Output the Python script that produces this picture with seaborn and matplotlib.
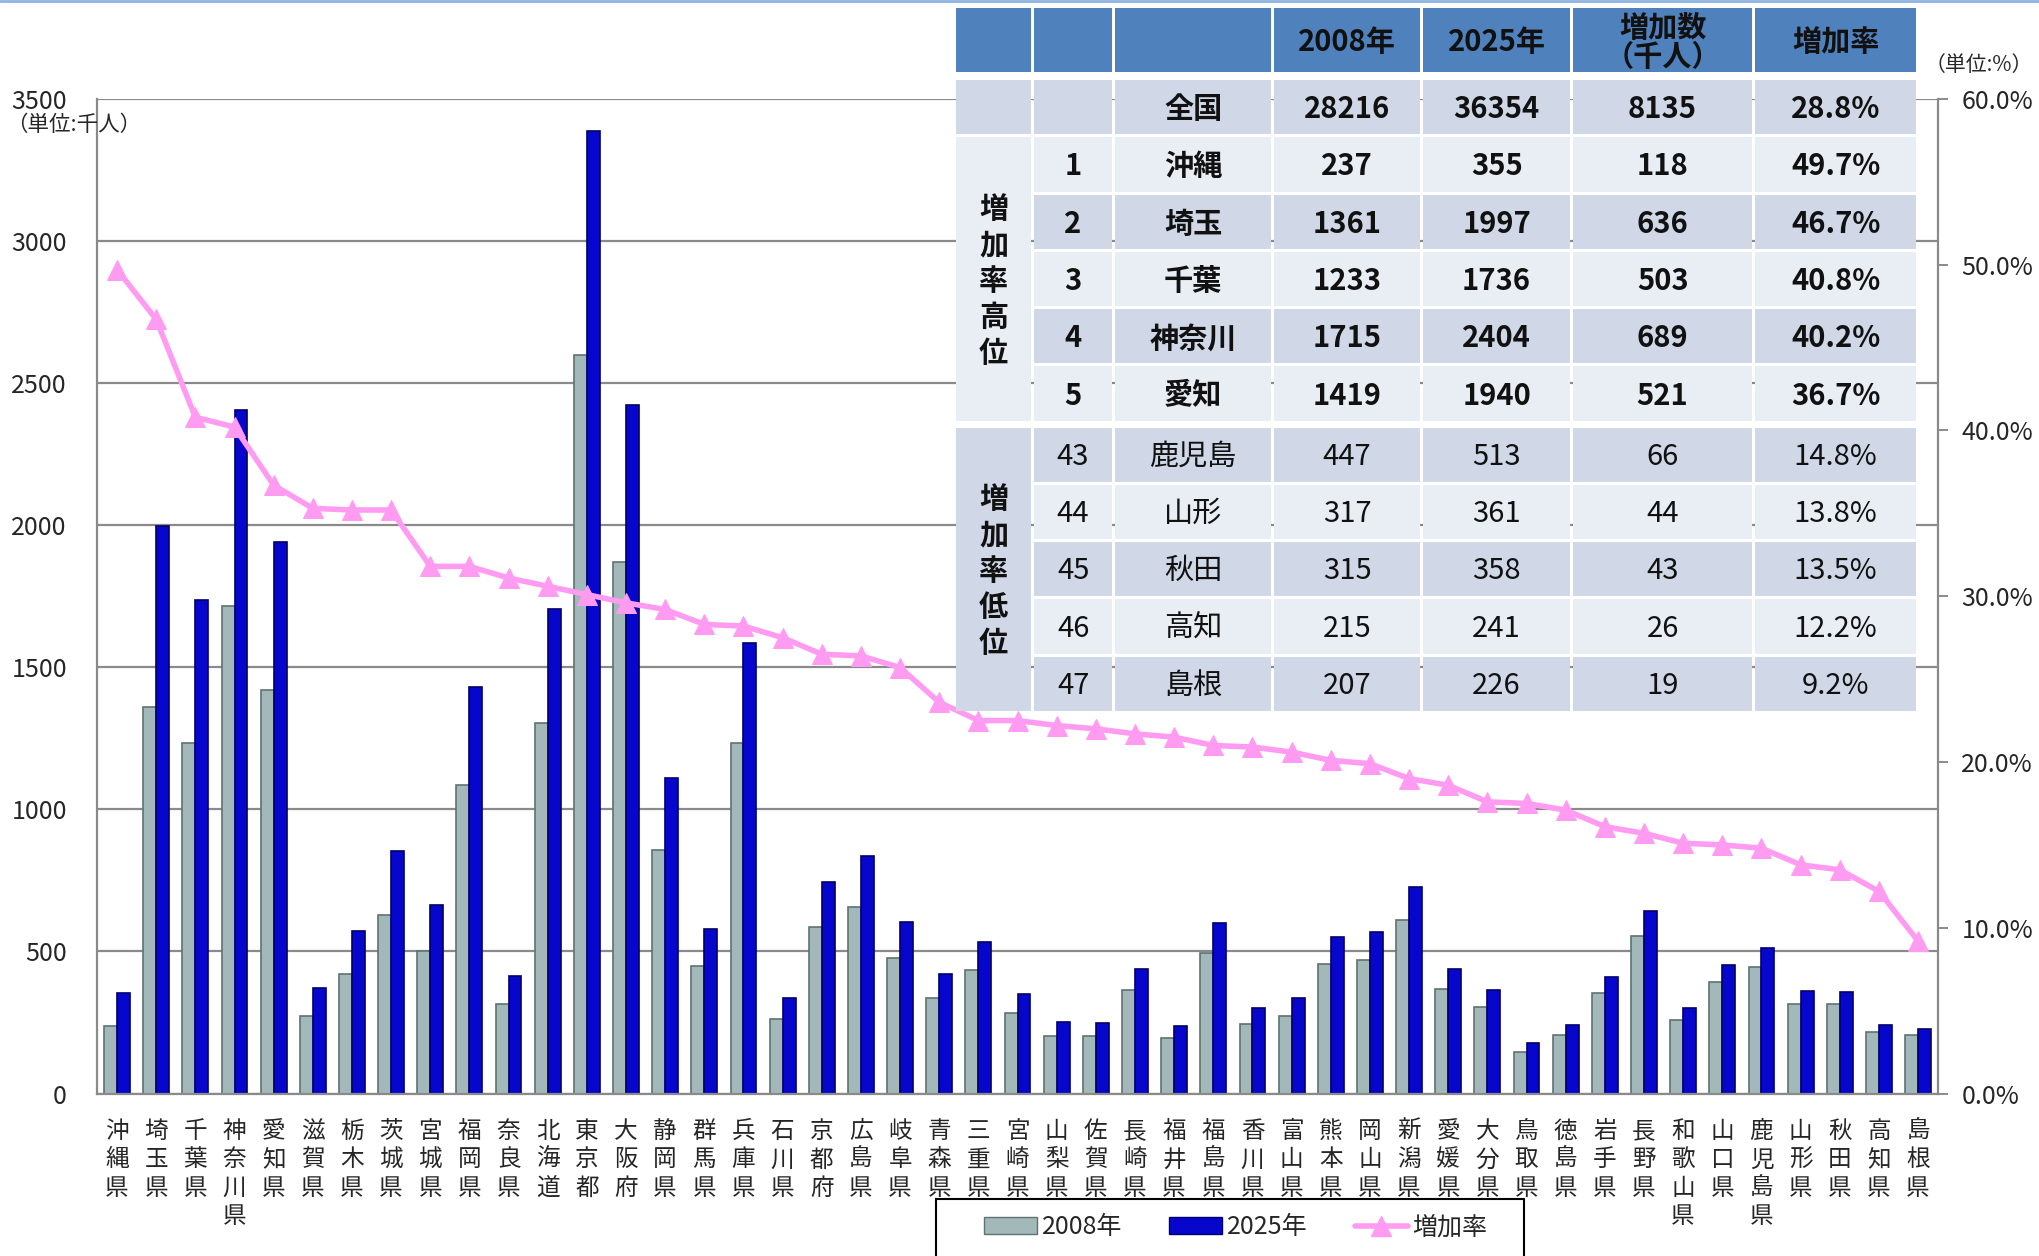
import matplotlib
matplotlib.use("Agg")
import matplotlib.pyplot as plt
from matplotlib.patches import Patch, Rectangle
from matplotlib.lines import Line2D
from matplotlib.ticker import FuncFormatter
import numpy as np
import pandas as pd
import seaborn as sns

sns.set_style("white")
plt.rcParams["font.family"] = ["Noto Sans CJK JP", "DejaVu Sans"]

# data (thousand people, 65+)
prefs = ["沖縄県", "埼玉県", "千葉県", "神奈川県", "愛知県", "滋賀県", "栃木県", "茨城県",
         "宮城県", "福岡県", "奈良県", "北海道", "東京都", "大阪府", "静岡県", "群馬県",
         "兵庫県", "石川県", "京都府", "広島県", "岐阜県", "青森県", "三重県", "宮崎県",
         "山梨県", "佐賀県", "長崎県", "福井県", "福島県", "香川県", "富山県", "熊本県",
         "岡山県", "新潟県", "愛媛県", "大分県", "鳥取県", "徳島県", "岩手県", "長野県",
         "和歌山県", "山口県", "鹿児島県", "山形県", "秋田県", "高知県", "島根県"]
pop2008 = [237, 1361, 1233, 1715, 1419, 273, 421, 629, 503, 1085, 316, 1305, 2599, 1869,
           858, 450, 1233, 263, 586, 658, 478, 338, 435, 284, 203, 203, 363, 194, 493, 246,
           274, 455, 471, 611, 368, 306, 148, 205, 355, 553, 260, 392, 447, 317, 315, 215, 207]
pop2025 = [355, 1997, 1736, 2404, 1940, 371, 573, 853, 664, 1431, 415, 1705, 3386, 2424,
           1109, 579, 1585, 338, 744, 835, 603, 421, 532, 349, 251, 249, 440, 237, 599, 300,
           335, 550, 567, 727, 438, 364, 177, 241, 411, 641, 302, 451, 513, 361, 358, 241, 226]
rate = [49.7, 46.7, 40.8, 40.2, 36.7, 35.3, 35.2, 35.2, 31.8, 31.8, 31.1, 30.6, 30.1, 29.6,
        29.2, 28.3, 28.2, 27.5, 26.5, 26.4, 25.7, 23.6, 22.5, 22.5, 22.2, 22.0, 21.7, 21.5,
        21.0, 20.9, 20.6, 20.1, 19.9, 19.0, 18.6, 17.6, 17.5, 17.1, 16.1, 15.7, 15.1, 15.0,
        14.8, 13.8, 13.5, 12.2, 9.2]

# table
tbl_header = ["", "", "", "2008年", "2025年", "増加数\n（千人）", "増加率"]
tbl_rank = ["", "1", "2", "3", "4", "5", "43", "44", "45", "46", "47"]
tbl_name = ["全国", "沖縄", "埼玉", "千葉", "神奈川", "愛知", "鹿児島", "山形", "秋田", "高知", "島根"]
tbl_2008 = ["28216", "237", "1361", "1233", "1715", "1419", "447", "317", "315", "215", "207"]
tbl_2025 = ["36354", "355", "1997", "1736", "2404", "1940", "513", "361", "358", "241", "226"]
tbl_inc = ["8135", "118", "636", "503", "689", "521", "66", "44", "43", "26", "19"]
tbl_rate = ["28.8%", "49.7%", "46.7%", "40.8%", "40.2%", "36.7%", "14.8%", "13.8%", "13.5%", "12.2%", "9.2%"]
group_labels = ["増加率高位", "増加率低位"]

GRAY = "#A3B8B8"
BLUE = "#0606CC"
PINK = "#FF9CF2"
GRID = "#8A8A8A"
HEAD = "#4F81BD"
DARK = "#D0D8E8"
LIGHT = "#E9EDF4"

df = pd.DataFrame({
    "pref": prefs * 2,
    "year": ["2008年"] * len(prefs) + ["2025年"] * len(prefs),
    "value": pop2008 + pop2025,
})

fig = plt.figure(figsize=(20.39, 12.56), dpi=100)
ax = fig.add_axes([0.0478, 0.1293, 0.9025, 0.792])

sns.barplot(data=df, x="pref", y="value", hue="year", palette=[GRAY, BLUE],
            width=0.66, ax=ax, legend=False, saturation=1)
for bar in ax.containers[0]:
    bar.set_edgecolor("#5F7272"); bar.set_linewidth(1.2)
for bar in ax.containers[1]:
    bar.set_edgecolor("#00006A"); bar.set_linewidth(1.2)

ax.set_xlim(-0.5, len(prefs) - 0.5)
ax.set_ylim(0, 3500)
ax.set_yticks(range(0, 3501, 500))
ax.yaxis.grid(True, color=GRID, linewidth=1.6)
ax.set_axisbelow(True)
ax.set_xlabel(""); ax.set_ylabel("")
ax.set_xticks(range(len(prefs)))
ax.set_xticklabels(["\n".join(p) for p in prefs], fontsize=17, linespacing=1.3, va="top")
ax.set_xticks(np.arange(-0.5, len(prefs), 1), minor=True)
ax.tick_params(axis="x", which="major", length=0, pad=19)
ax.tick_params(axis="x", which="minor", length=7, color=GRID, width=1.4, direction="out")
ax.tick_params(axis="y", length=0, pad=22, labelsize=18)
for s in ["top", "right"]:
    ax.spines[s].set_visible(False)
for s in ["left", "bottom"]:
    ax.spines[s].set_color(GRID); ax.spines[s].set_linewidth(1.6)

ax2 = ax.twinx()
sns.lineplot(x=np.arange(len(prefs)), y=np.array(rate) / 100, ax=ax2, color=PINK,
             linewidth=4, marker="^", markersize=14, markeredgecolor=PINK)
ax2.set_ylim(0, 0.6)
ax2.set_yticks(np.arange(0, 0.61, 0.1))
ax2.yaxis.set_major_formatter(FuncFormatter(lambda v, p: f"{v * 100:.1f}%"))
ax2.tick_params(axis="y", length=7, width=1.4, color=GRID, pad=10, labelsize=18)
for s in ["top", "left", "bottom"]:
    ax2.spines[s].set_visible(False)
ax2.spines["right"].set_color(GRID); ax2.spines["right"].set_linewidth(1.6)
ax2.set_ylabel("")

fig.text(0.003, 0.9005, "（単位:千人）", fontsize=15.5, ha="left", va="center")
fig.text(0.997, 0.948, "（単位:%）", fontsize=15, ha="right", va="center")
fig.add_artist(Line2D([0, 1], [0.999, 0.999], color="#8DB4E2", linewidth=2))

# legend: box runs off the bottom edge like the original
fig.add_artist(Rectangle((0.4592, -0.02), 0.2882, 0.0654, transform=fig.transFigure,
                         facecolor="white", edgecolor="black", linewidth=1.5))
handles = [Patch(facecolor=GRAY, edgecolor="#5F7272"),
           Patch(facecolor=BLUE, edgecolor="#00006A"),
           Line2D([], [], color=PINK, linewidth=4, marker="^", markersize=14)]
leg = fig.legend(handles, ["2008年", "2025年", "増加率"], loc="center left",
                 bbox_to_anchor=(0.4826, 0.0228), ncol=3, frameon=False,
                 fontsize=18, handlelength=2.1, handletextpad=0.2, columnspacing=1.9,
                 borderpad=0, borderaxespad=0)

# table overlay
tax = fig.add_axes([0.4689, 0.4339, 0.4723, 0.5597], zorder=5)
col_w = [78, 81, 159, 149, 150, 182, 164]
row_h = [64] + [54] * 11
row_gap = [7.6, 3, 3, 3, 3, 3, 7, 3, 3, 3, 3, 0]
gap = 3
xe = np.concatenate([[0], np.cumsum(col_w)])
ye = [0]
for h, g in zip(row_h, row_gap):
    ye.append(ye[-1] + h + g)
tax.set_xlim(0, xe[-1])
tax.set_ylim(ye[-1], 0)
tax.axis("off")


def cell(c0, c1, r0, r1, color, text="", bold=True, vertical=False):
    x0 = xe[c0]; x1 = xe[c1] - gap
    y0 = ye[r0]; y1 = ye[r1] - row_gap[r1 - 1]
    tax.add_patch(Rectangle((x0, y0), x1 - x0, y1 - y0, facecolor=color, edgecolor="none"))
    if text:
        s = "\n".join(text) if vertical else text
        tax.text((x0 + x1) / 2, (y0 + y1) / 2 + 2, s, ha="center", va="center", fontsize=21,
                 fontweight="bold" if bold else "normal", color="#111111",
                 linespacing=1.25 if vertical else 0.95)


for c in range(7):
    cell(c, c + 1, 0, 1, HEAD, tbl_header[c])
cols = [tbl_rank, tbl_name, tbl_2008, tbl_2025, tbl_inc, tbl_rate]
for i in range(len(tbl_name)):
    r = i + 1
    if i == 0:
        color = DARK
    elif i <= 5:
        color = LIGHT if i % 2 == 1 else DARK
    else:
        color = DARK if i % 2 == 0 else LIGHT
    for j, col in enumerate(cols):
        cell(j + 1, j + 2, r, r + 1, color, col[i], bold=(i <= 5))
cell(0, 1, 1, 2, DARK)
cell(0, 1, 2, 7, LIGHT, group_labels[0], vertical=True)
cell(0, 1, 7, 12, DARK, group_labels[1], vertical=True)

fig.savefig("out.png", dpi=100)
